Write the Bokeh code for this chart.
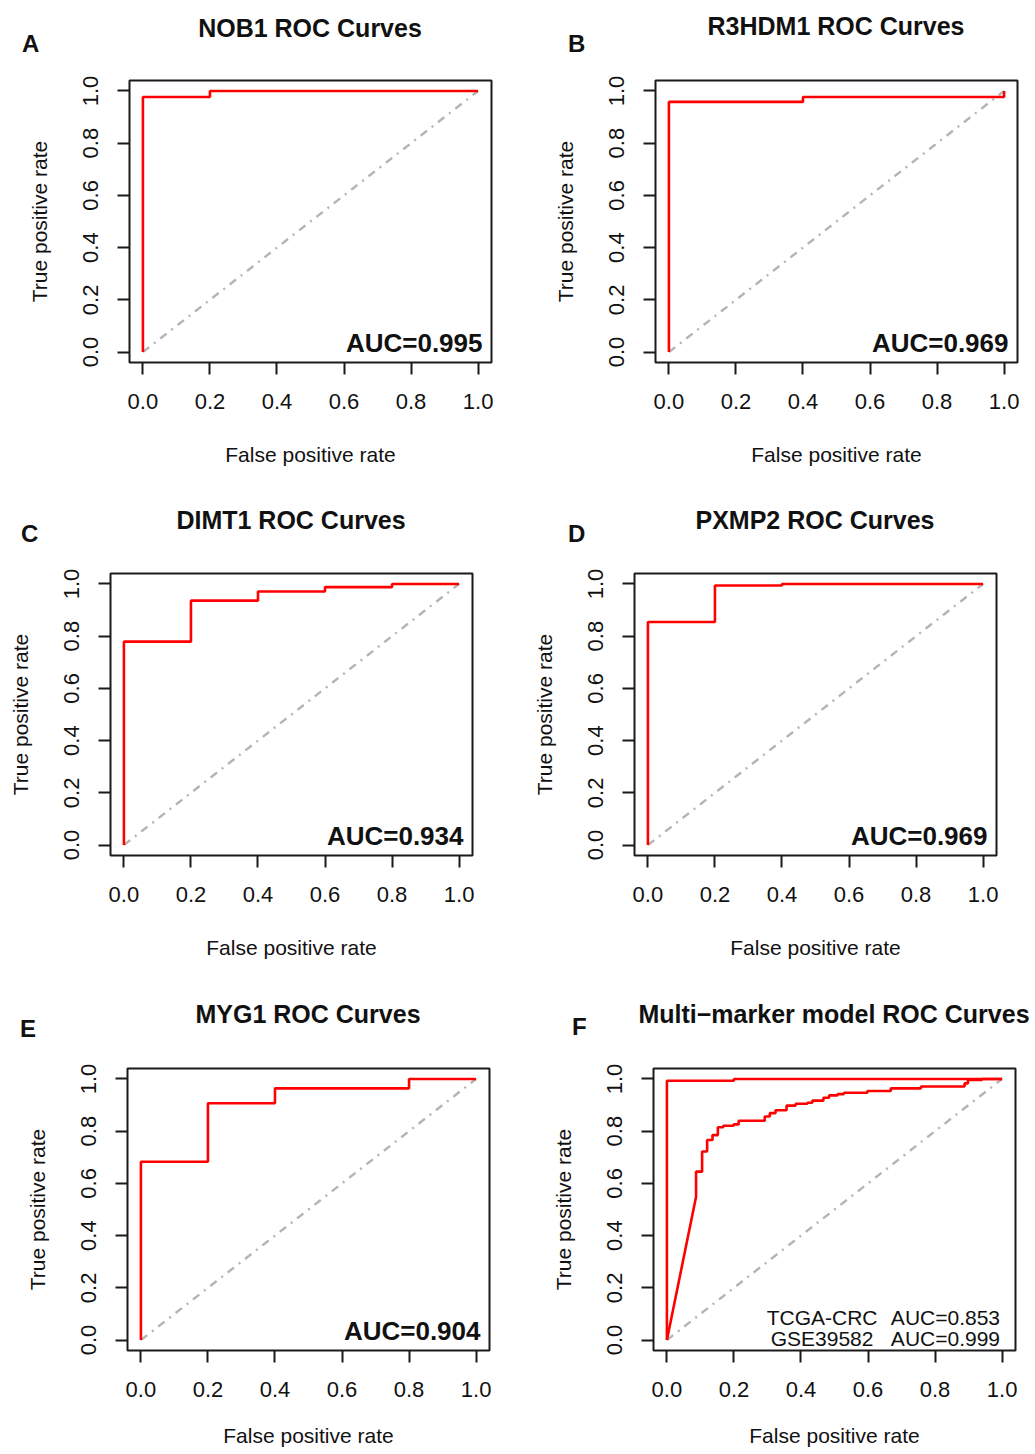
from bokeh.plotting import figure
from bokeh.models import Range1d, FixedTicker, NumeralTickFormatter, Label, Div
from bokeh.layouts import column, row
from bokeh.embed import file_html
from bokeh.resources import INLINE

FONT = "Liberation Sans"

# ---------------- data ----------------
titles = ["NOB1 ROC Curves", "R3HDM1 ROC Curves", "DIMT1 ROC Curves",
          "PXMP2 ROC Curves", "MYG1 ROC Curves", "Multi\u2212marker model ROC Curves"]
letters = ["A", "B", "C", "D", "E", "F"]
ticks = [0.0, 0.2, 0.4, 0.6, 0.8, 1.0]
diag_x = [0.0, 1.0]
diag_y = [0.0, 1.0]

nob1_fpr = [0.0, 0.0, 0.2, 0.2, 1.0]
nob1_tpr = [0.0, 0.977, 0.977, 1.0, 1.0]

r3hdm1_fpr = [0.0, 0.0, 0.4, 0.4, 1.0, 1.0]
r3hdm1_tpr = [0.0, 0.958, 0.958, 0.977, 0.977, 1.0]

dimt1_fpr = [0.0, 0.0, 0.2, 0.2, 0.4, 0.4, 0.6, 0.6, 0.8, 0.8, 1.0]
dimt1_tpr = [0.0, 0.779, 0.779, 0.936, 0.936, 0.971, 0.971, 0.988, 0.988, 1.0, 1.0]

pxmp2_fpr = [0.0, 0.0, 0.2, 0.2, 0.4, 0.4, 1.0]
pxmp2_tpr = [0.0, 0.854, 0.854, 0.994, 0.994, 1.0, 1.0]

myg1_fpr = [0.0, 0.0, 0.2, 0.2, 0.4, 0.4, 0.8, 0.8, 1.0]
myg1_tpr = [0.0, 0.683, 0.683, 0.907, 0.907, 0.964, 0.964, 1.0, 1.0]

gse_fpr = [0.0, 0.0, 0.2, 0.2, 1.0]
gse_tpr = [0.0, 0.993, 0.993, 1.0, 1.0]

tcga_fpr = [0.0, 0.087, 0.087, 0.105, 0.105, 0.120, 0.120, 0.136, 0.136, 0.152, 0.152,
            0.168, 0.168, 0.199, 0.199, 0.214, 0.214, 0.292, 0.292, 0.307, 0.307,
            0.324, 0.324, 0.357, 0.357, 0.384, 0.384, 0.419, 0.419, 0.434, 0.434,
            0.467, 0.467, 0.484, 0.484, 0.509, 0.509, 0.528, 0.528, 0.598, 0.598,
            0.668, 0.668, 0.758, 0.758, 0.888, 0.888, 0.898, 0.898, 0.940, 0.940, 1.0]
tcga_tpr = [0.0, 0.549, 0.645, 0.645, 0.722, 0.722, 0.766, 0.766, 0.785, 0.785, 0.815,
            0.815, 0.821, 0.821, 0.826, 0.826, 0.840, 0.840, 0.856, 0.856, 0.869,
            0.869, 0.880, 0.880, 0.898, 0.898, 0.905, 0.905, 0.909, 0.909, 0.917,
            0.917, 0.928, 0.928, 0.937, 0.937, 0.942, 0.942, 0.947, 0.947, 0.954,
            0.954, 0.964, 0.964, 0.971, 0.971, 0.983, 0.983, 0.996, 0.996, 1.0, 1.0]

auc_labels = ["AUC=0.995", "AUC=0.969", "AUC=0.934", "AUC=0.969", "AUC=0.904"]
multi_names = ["TCGA-CRC", "GSE39582"]
multi_aucs = ["AUC=0.853", "AUC=0.999"]

curves = [
    [(nob1_fpr, nob1_tpr)],
    [(r3hdm1_fpr, r3hdm1_tpr)],
    [(dimt1_fpr, dimt1_tpr)],
    [(pxmp2_fpr, pxmp2_tpr)],
    [(myg1_fpr, myg1_tpr)],
    [(tcga_fpr, tcga_tpr), (gse_fpr, gse_tpr)],
]

# figure geometry: (width, height, left, right, top, bottom, x-label standoff)
geom = [
    (520, 420, 129, 29, 10, 128, 31),
    (515, 420, 135, 18, 10, 128, 31),
    (520, 417, 110, 48, 10, 125, 31),
    (515, 417, 114, 39, 10, 125, 31),
    (520, 396, 127, 31, 10, 104, 24),
    (515, 396, 133, 20, 10, 104, 24),
]
# header geometry: (height, title centre x, title baseline y, letter left x, letter baseline y)
head = [
    (70, 310, 37, 22, 52),
    (70, 316, 35, 48, 52),
    (73, 291, 39, 21, 52),
    (73, 295, 39, 48, 52),
    (78, 308, 43, 20, 57),
    (78, 314, 43, 52, 55),
]


def make_header(i):
    w = geom[i][0]
    h, tc, tb, ll, lb = head[i]
    fam = "'Liberation Sans', Arial, sans-serif"
    html = (
        f'<div style="position:relative;width:{w}px;height:{h}px;font-family:{fam};color:#111111;">'
        f'<div style="position:absolute;left:{tc - 200}px;width:400px;top:{tb - 21.2:.1f}px;'
        f'text-align:center;font-size:25px;line-height:25px;font-weight:bold;white-space:nowrap;">'
        f'{titles[i]}</div>'
        f'<div style="position:absolute;left:{ll}px;top:{lb - 20.3:.1f}px;font-size:24px;'
        f'line-height:24px;font-weight:bold;">{letters[i]}</div></div>'
    )
    return Div(text=html, width=w, height=h, margin=0)


def make_panel(i):
    w, h, bl, br, bt, bb, xls = geom[i]
    p = figure(width=w, height=h, x_range=Range1d(-0.04, 1.04), y_range=Range1d(-0.04, 1.04),
               output_backend="svg", toolbar_location=None, title=None,
               min_border_left=bl, min_border_right=br, min_border_top=bt, min_border_bottom=bb)
    p.background_fill_color = "white"
    p.border_fill_color = "white"
    p.outline_line_color = "#1a1a1a"
    p.outline_line_width = 2
    p.xgrid.visible = False
    p.ygrid.visible = False

    for ax, lab, als in ((p.xaxis[0], "False positive rate", xls), (p.yaxis[0], "True positive rate", 30)):
        ax.ticker = FixedTicker(ticks=ticks)
        ax.formatter = NumeralTickFormatter(format="0.0")
        ax.axis_line_color = None
        ax.major_tick_in = 0
        ax.major_tick_out = 12
        ax.major_tick_line_color = "#1a1a1a"
        ax.major_tick_line_width = 2
        ax.minor_tick_line_color = None
        ax.major_label_text_font = FONT
        ax.major_label_text_font_size = "22px"
        ax.major_label_text_color = "#111111"
        ax.major_label_standoff = 19
        ax.axis_label = lab
        ax.axis_label_text_font = FONT
        ax.axis_label_text_font_size = "21px"
        ax.axis_label_text_font_style = "normal"
        ax.axis_label_text_color = "#111111"
        ax.axis_label_standoff = als
    p.yaxis[0].major_label_orientation = "vertical"

    p.line(diag_x, diag_y, line_color="#B4B4B4", line_width=2.4, line_dash="8 6 2 6")
    for fx, fy in curves[i]:
        p.line(fx, fy, line_color="#FF0000", line_width=2.6)

    if i < 5:
        p.add_layout(Label(x=1.04, y=0.0, x_offset=-9, y_offset=9, text=auc_labels[i],
                           text_align="right", text_baseline="middle", text_font=FONT,
                           text_font_style="bold", text_font_size="26px", text_color="#111111"))
    else:
        for k, off in enumerate([23, 2]):
            p.add_layout(Label(x=0.463, y=0.0, y_offset=off, text=multi_names[k], text_align="center",
                               text_baseline="middle", text_font=FONT,
                               text_font_size="21px", text_color="#111111"))
            p.add_layout(Label(x=0.831, y=0.0, y_offset=off, text=multi_aucs[k], text_align="center",
                               text_baseline="middle", text_font=FONT,
                               text_font_size="21px", text_color="#111111"))
    return p


headers = [make_header(i) for i in range(6)]
panels = [make_panel(i) for i in range(6)]
layout = column(
    row(headers[0], headers[1]), row(panels[0], panels[1]),
    row(headers[2], headers[3]), row(panels[2], panels[3]),
    row(headers[4], headers[5]), row(panels[4], panels[5]),
)

with open("out.html", "w", encoding="utf-8") as f:
    f.write(file_html(layout, INLINE))
